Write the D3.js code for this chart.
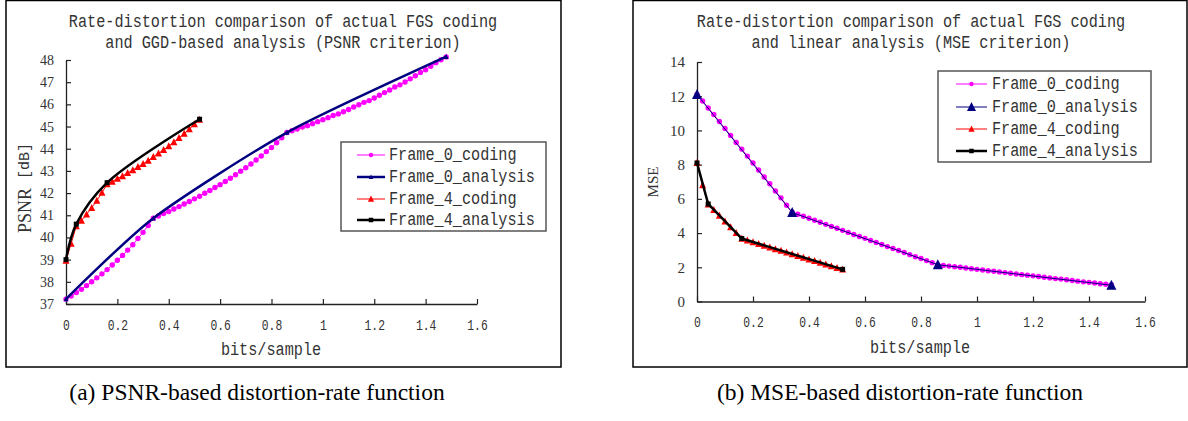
<!DOCTYPE html>
<html>
<head>
<meta charset="utf-8">
<script src="https://cdn.jsdelivr.net/npm/d3@7"></script>
<style>
  body { margin: 0; background: #fff; }
  svg { display: block; }
</style>
</head>
<body>
<svg id="chart" width="1188" height="421"></svg>
<script>
// bits/sample of the coded points (Frame 0)
const rate0 = [0, 0.02, 0.04, 0.06, 0.08, 0.10, 0.12, 0.14, 0.16, 0.18, 0.20, 0.22, 0.24, 0.26, 0.28, 0.30, 0.32, 0.34,
  0.36, 0.38, 0.40, 0.42, 0.44, 0.46, 0.48, 0.50, 0.52, 0.54, 0.56, 0.58, 0.60, 0.62, 0.64, 0.66, 0.68, 0.70, 0.72, 0.74, 0.76, 0.78, 0.80, 0.82, 0.84, 0.86,
  0.88, 0.90, 0.92, 0.94, 0.96, 0.98, 1.00, 1.02, 1.04, 1.06, 1.08, 1.10, 1.12, 1.14, 1.16, 1.18, 1.20, 1.22, 1.24, 1.26, 1.28, 1.30, 1.32, 1.34, 1.36, 1.38, 1.40, 1.42, 1.44, 1.46, 1.48];
const psnr0Coding = [37.22, 37.36, 37.52, 37.66, 37.83, 38.00, 38.18, 38.36, 38.55, 38.76, 38.97, 39.19, 39.43, 39.67, 39.95, 40.23, 40.54, 40.87,
  40.97, 41.08, 41.17, 41.28, 41.39, 41.51, 41.62, 41.74, 41.86, 41.99, 42.12, 42.25, 42.38, 42.52, 42.67, 42.83, 42.99, 43.14, 43.31, 43.49, 43.67, 43.87, 44.05, 44.27, 44.49, 44.73,
  44.81, 44.89, 44.98, 45.04, 45.13, 45.22, 45.31, 45.40, 45.50, 45.57, 45.67, 45.77, 45.88, 45.98, 46.09, 46.17, 46.29, 46.41, 46.53, 46.65, 46.78, 46.88, 47.01, 47.15, 47.29, 47.44, 47.56, 47.72, 47.88, 48.01, 48.14];
const mse0Coding = [12.1, 11.72, 11.31, 10.93, 10.52, 10.12, 9.71, 9.30, 8.91, 8.50, 8.10, 7.69, 7.28, 6.88, 6.46, 6.06, 5.63, 5.22,
  5.10, 4.98, 4.87, 4.75, 4.63, 4.51, 4.39, 4.28, 4.16, 4.04, 3.92, 3.80, 3.69, 3.57, 3.45, 3.33, 3.21, 3.10, 2.98, 2.86, 2.74, 2.62, 2.51, 2.39, 2.27, 2.15,
  2.11, 2.07, 2.03, 2.00, 1.96, 1.92, 1.88, 1.84, 1.80, 1.77, 1.73, 1.69, 1.65, 1.61, 1.57, 1.54, 1.50, 1.46, 1.42, 1.38, 1.34, 1.31, 1.27, 1.23, 1.19, 1.15, 1.12, 1.08, 1.04, 1.01, 0.98];

// Frame 4
const rate4 = [0, 0.02, 0.04, 0.06, 0.08, 0.10, 0.12, 0.14, 0.16, 0.18, 0.20, 0.22, 0.24, 0.26, 0.28, 0.30, 0.32, 0.34, 0.36, 0.38, 0.40, 0.42, 0.44, 0.46, 0.48, 0.50, 0.52];
const psnr4Coding = [38.96, 39.72, 40.51, 40.76, 41.04, 41.34, 41.66, 42.02, 42.40, 42.52, 42.65, 42.77, 42.91, 43.04, 43.18, 43.32, 43.47, 43.63, 43.79, 43.95, 44.12, 44.30, 44.49, 44.68, 44.89, 45.11, 45.31];
const mse4Coding = [8.10, 6.80, 5.68, 5.36, 5.02, 4.69, 4.35, 4.01, 3.67, 3.57, 3.47, 3.37, 3.27, 3.17, 3.07, 2.97, 2.87, 2.77, 2.67, 2.57, 2.47, 2.37, 2.27, 2.17, 2.07, 1.97, 1.88];

// analysis points
const rate0Analysis = [0, 0.34, 0.86, 1.48];
const psnr0Analysis = [37.22, 40.87, 44.73, 48.15];
const mse0Analysis = [12.1, 5.2, 2.15, 0.95];
const rate4Analysis = [0, 0.04, 0.16, 0.52];
const psnr4Analysis = [39.0, 40.6, 42.47, 45.33];
const mse4Analysis = [8.1, 5.7, 3.68, 1.88];

const rateTicks = [0, 0.2, 0.4, 0.6, 0.8, 1.0, 1.2, 1.4, 1.6];
const psnrTicks = [37, 38, 39, 40, 41, 42, 43, 44, 45, 46, 47, 48];
const mseTicks = [0, 2, 4, 6, 8, 10, 12, 14];
const seriesNames = ["Frame_0_coding", "Frame_0_analysis", "Frame_4_coding", "Frame_4_analysis"];

const zip = (xs, ys) => xs.map((x, i) => [x, ys[i]]);

const svg = d3.select("#chart");
const MONO = "'Liberation Mono', 'DejaVu Sans Mono', monospace";
const SERIF = "'Liberation Serif', 'DejaVu Serif', serif";

// squeeze monospace text to the narrow look of the original font
const squeeze = (sel, charW) => sel
  .attr("textLength", function () { return this.textContent.length * charW; })
  .attr("lengthAdjust", "spacingAndGlyphs");

// narrow, tall monospace text drawn with a vertical stretch instead
const tallText = (parent, str, x, y, anchor) => parent.append("text")
  .text(str)
  .attr("transform", `translate(${x},${y}) scale(1,1.18)`)
  .attr("text-anchor", anchor)
  .attr("font-family", MONO)
  .attr("font-size", 15.2)
  .attr("fill", "#333");

const triangle = (cx, cy, s) => `M${cx},${cy - s * 0.55}L${cx + s / 2},${cy + s * 0.45}L${cx - s / 2},${cy + s * 0.45}Z`;

const drawMarker = (g, kind, cx, cy, size, color) => {
  if (kind === "circle") {
    g.append("circle").attr("cx", cx).attr("cy", cy).attr("r", size).attr("fill", color);
  } else if (kind === "triangle") {
    g.append("path").attr("d", triangle(cx, cy, size)).attr("fill", color);
  } else {
    g.append("rect").attr("x", cx - size / 2).attr("y", cy - size / 2)
      .attr("width", size).attr("height", size).attr("fill", color);
  }
};

const panels = [
  {
    frame: [6, 0.5, 561, 367],
    xRange: [66, 477],
    yDomain: [37, 48], yRange: [304, 60], yTicks: psnrTicks, yTickSize: 14,
    title: ["Rate-distortion comparison of actual FGS coding", "and GGD-based analysis (PSNR criterion)"],
    titleX: 283,
    legend: { x: 341, y: 142, w: 205, h: 89, rows: [155, 177, 199, 220], s0: 357, s1: 385, tx: 389 },
    xLabel: { x: 271, y: 355 },
    yLabel: { x: 25, y: 188, parts: [["PSNR", SERIF, 18], [" [dB]", MONO, 15]] },
    caption: { x: 257, text: "(a) PSNR-based distortion-rate function" },
    series: [
      { pts: zip(rate0, psnr0Coding), color: "#ff00ff", lw: 1, marker: "circle", size: 2.7, curve: d3.curveLinear },
      { pts: zip(rate0Analysis, psnr0Analysis), color: "#000080", lw: 2.5, marker: "triangle", size: 5, curve: d3.curveCardinal.tension(0.3) },
      { pts: zip(rate4, psnr4Coding), color: "#ff0000", lw: 1, marker: "triangle", size: 7, curve: d3.curveLinear },
      { pts: zip(rate4Analysis, psnr4Analysis), color: "#000000", lw: 2.5, marker: "square", size: 5, curve: d3.curveCatmullRom }
    ]
  },
  {
    frame: [633, 0.5, 1187, 367],
    xRange: [697, 1145],
    yDomain: [0, 14], yRange: [301.5, 62], yTicks: mseTicks, yTickSize: 15,
    title: ["Rate-distortion comparison of actual FGS coding", "and linear analysis (MSE criterion)"],
    titleX: 911,
    legend: { x: 938, y: 71, w: 213, h: 91, rows: [84, 107, 129, 151], s0: 956, s1: 987, tx: 992 },
    xLabel: { x: 920, y: 353 },
    yLabel: { x: 653, y: 182, parts: [["MSE", SERIF, 15]] },
    caption: { x: 900, text: "(b) MSE-based distortion-rate function" },
    series: [
      { pts: zip(rate0, mse0Coding), color: "#ff00ff", lw: 1, marker: "circle", size: 2.7, curve: d3.curveLinear },
      { pts: zip(rate0Analysis, mse0Analysis), color: "#000080", lw: 1, marker: "triangle", size: 10, curve: d3.curveLinear },
      { pts: zip(rate4, mse4Coding), color: "#ff0000", lw: 1, marker: "triangle", size: 7, curve: d3.curveLinear },
      { pts: zip(rate4Analysis, mse4Analysis), color: "#000000", lw: 2.5, marker: "square", size: 5, curve: d3.curveLinear }
    ]
  }
];

panels.forEach(p => {
  const g = svg.append("g");
  const [fx0, fy0, fx1, fy1] = p.frame;

  g.append("rect")
    .attr("x", fx0).attr("y", fy0)
    .attr("width", fx1 - fx0).attr("height", fy1 - fy0)
    .attr("fill", "none").attr("stroke", "#000").attr("stroke-width", 1.5);

  const x = d3.scaleLinear().domain([0, 1.6]).range(p.xRange);
  const y = d3.scaleLinear().domain(p.yDomain).range(p.yRange);

  // title
  p.title.forEach((line, i) => tallText(g, line, p.titleX, 27 + i * 21, "middle"));

  // axes
  const xAxis = g.append("g")
    .attr("transform", `translate(0,${p.yRange[0]})`)
    .call(d3.axisBottom(x).tickValues(rateTicks).tickSizeInner(-5).tickSizeOuter(0).tickPadding(16)
      .tickFormat(d => String(+d.toFixed(1))));
  xAxis.selectAll("text")
    .attr("font-family", MONO).attr("font-size", 14).attr("fill", "#333")
    .call(squeeze, 6.8);

  const yAxis = g.append("g")
    .attr("transform", `translate(${p.xRange[0]},0)`)
    .call(d3.axisLeft(y).tickValues(p.yTicks).tickSizeInner(-5).tickSizeOuter(0).tickPadding(12));
  yAxis.selectAll("text")
    .attr("font-family", SERIF).attr("font-size", p.yTickSize).attr("fill", "#333");

  [xAxis, yAxis].forEach(a => {
    a.select(".domain").attr("stroke", "#222").attr("stroke-width", 1.3);
    a.selectAll(".tick line").attr("stroke", "#222").attr("stroke-width", 1.2);
  });

  // axis titles
  tallText(g, "bits/sample", p.xLabel.x, p.xLabel.y, "middle");

  const yl = g.append("text")
    .attr("transform", `translate(${p.yLabel.x},${p.yLabel.y}) rotate(-90)`)
    .attr("text-anchor", "middle")
    .attr("dominant-baseline", "central")
    .attr("fill", "#333");
  p.yLabel.parts.forEach(([t, fam, size]) => {
    yl.append("tspan").text(t).attr("font-family", fam).attr("font-size", size);
  });

  // series
  p.series.forEach(s => {
    const line = d3.line().x(d => x(d[0])).y(d => y(d[1])).curve(s.curve);
    g.append("path")
      .datum(s.pts)
      .attr("d", line)
      .attr("fill", "none")
      .attr("stroke", s.color)
      .attr("stroke-width", s.lw)
      .attr("stroke-linejoin", "round");
    const mg = g.append("g");
    s.pts.forEach(d => drawMarker(mg, s.marker, x(d[0]), y(d[1]), s.size, s.color));
  });

  // legend
  const L = p.legend;
  const lg = g.append("g");
  lg.append("rect")
    .attr("x", L.x).attr("y", L.y).attr("width", L.w).attr("height", L.h)
    .attr("fill", "#fff").attr("stroke", "#555").attr("stroke-width", 1.5);
  p.series.forEach((s, i) => {
    const cy = L.rows[i];
    lg.append("line")
      .attr("x1", L.s0).attr("x2", L.s1).attr("y1", cy).attr("y2", cy)
      .attr("stroke", s.color).attr("stroke-width", s.lw);
    drawMarker(lg, s.marker, (L.s0 + L.s1) / 2, cy, s.marker === "circle" ? 2.2 : s.size * 0.9, s.color);
    tallText(lg, seriesNames[i], L.tx, cy + 5, "start");
  });

  // caption
  svg.append("text")
    .text(p.caption.text)
    .attr("x", p.caption.x).attr("y", 400)
    .attr("text-anchor", "middle")
    .attr("font-family", SERIF).attr("font-size", 23.5).attr("fill", "#000");
});
</script>
</body>
</html>
